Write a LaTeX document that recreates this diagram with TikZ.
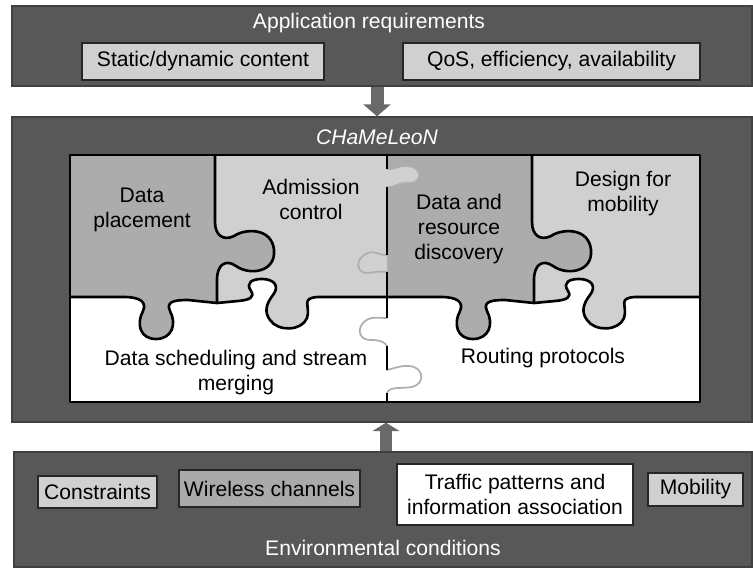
\documentclass[tikz,border=0pt]{standalone}
\usepackage{fontspec}
\setmainfont{Liberation Sans}
\usetikzlibrary{arrows.meta, positioning, calc}
\definecolor{bandgray}{RGB}{88,88,88}
\definecolor{arrowgray}{RGB}{105,105,105}
\definecolor{tagpale}{RGB}{208,208,208}
\definecolor{tagmid}{RGB}{170,170,170}
\definecolor{piecedark}{RGB}{172,172,172}
\definecolor{piecelight}{RGB}{208,208,208}
\definecolor{ghostline}{RGB}{175,175,175}

\begin{document}
\begin{tikzpicture}[x=0.02cm, y=-0.02cm,
    font=\fontsize{12}{14.4}\selectfont,
    band/.style={rectangle, draw=black!75, line width=0.8pt, fill=bandgray,
                 minimum width=14.8cm},
    bandtitle/.style={text=white},
    tag/.style={rectangle, draw=black!85, line width=1pt, inner sep=0pt,
                align=center, minimum height=0.74cm},
    piece/.style={draw=black, line width=1.5pt, line join=round},
    ghost/.style={draw=ghostline, line width=1pt},
    fatarrow/.style={draw=arrowgray, line width=0.26cm,
                     -{Triangle[width=0.54cm, length=0.24cm]}},
    slimarrow/.style={draw=arrowgray, line width=0.24cm,
                      -{Triangle[width=0.54cm, length=0.17cm]}}]

    \useasboundingbox (0,0) rectangle (753,570);

    % Application requirements
    \node[band, minimum height=1.6cm] (appband) at (382,46) {};
    \node[bandtitle] (appreq) at (369,23) {Application requirements};
    \node[tag, fill=tagpale, minimum width=4.84cm] (staticbox) at (203,61.5) {Static/dynamic content};
    \node[tag, fill=tagpale, minimum width=5.94cm] (qosbox) at (551.5,61.5) {QoS, efficiency, availability};

    % CHaMeLeoN
    \node[band, minimum height=6.1cm] (chamband) at (382,269.5) {};
    \node[bandtitle] (chamtitle) at (377,137) {\textit{CHaMeLeoN}};

    % Environmental conditions
    \node[band, minimum width=14.76cm, minimum height=2.3cm] (envband) at (383,509.5) {};
    \node[bandtitle] (envtitle) at (383,548) {Environmental conditions};
    \node[tag, fill=tagpale, minimum width=2.38cm, minimum height=0.64cm] (constraintsbox) at (97.5,492) {Constraints};
    \node[tag, fill=tagmid, minimum width=3.62cm] (wirelessbox) at (269.5,488.5) {Wireless channels};
    \node[tag, fill=white, minimum width=4.72cm, minimum height=1.22cm] (trafficbox) at (515,494.5) {Traffic patterns and\\information association};
    \node[tag, fill=tagpale, minimum width=1.9cm, minimum height=0.66cm] (mobilitybox) at (695.5,489.5) {Mobility};

    % Arrows between the layers
    \coordinate (arrtop) at (377,0);
    \coordinate (arrbot) at (386,0);
    \draw[fatarrow] (appband.south -| arrtop) -- (chamband.north -| arrtop);
    \draw[slimarrow] (envband.north -| arrbot) -- (chamband.south -| arrbot);

    % Puzzle: both halves share the same cut
    \begin{scope}
        \clip (70,155) rectangle (700,402);
        \foreach \dx in {0,317} {
            \begin{scope}[shift={(\dx,0)}]
                \fill[white] (70,155) rectangle (387,402);
                % upper pieces
                \fill[piecelight] (70,155) -- (70,297) -- (124,297)
                    .. controls (140,297) and (147,302) .. (143,311)
                    .. controls (136,324) and (140,339) .. (156,339)
                    .. controls (172,339) and (177,324) .. (170,311)
                    .. controls (166,302) and (173,300) .. (188,300) -- (217,303)
                    -- (238,301) .. controls (250,300) and (255,297) .. (251,291)
                    .. controls (245,282) and (253,279) .. (262,279)
                    .. controls (274,279) and (280,286) .. (273,295)
                    .. controls (266,304) and (264,312) .. (270,320)
                    .. controls (278,332) and (302,331) .. (307,318)
                    .. controls (311,306) and (300,298) .. (318,297)
                    -- (387,297) -- (387,155) -- cycle;
                % left upper piece
                \fill[piecedark] (70,155) -- (70,297) -- (124,297)
                    .. controls (140,297) and (147,302) .. (143,311)
                    .. controls (136,324) and (140,339) .. (156,339)
                    .. controls (172,339) and (177,324) .. (170,311)
                    .. controls (166,302) and (173,300) .. (188,300) -- (217,303)
                    -- (217,280) .. controls (217,264) and (226,259) .. (236,266)
                    .. controls (250,276) and (276,272) .. (274,250)
                    .. controls (272,228) and (246,228) .. (234,236)
                    .. controls (224,241) and (215,236) .. (215,222) -- (215,155) -- cycle;
                % cuts
                \draw[piece] (70,297) -- (124,297)
                    .. controls (140,297) and (147,302) .. (143,311)
                    .. controls (136,324) and (140,339) .. (156,339)
                    .. controls (172,339) and (177,324) .. (170,311)
                    .. controls (166,302) and (173,300) .. (188,300) -- (217,303)
                    -- (238,301) .. controls (250,300) and (255,297) .. (251,291)
                    .. controls (245,282) and (253,279) .. (262,279)
                    .. controls (274,279) and (280,286) .. (273,295)
                    .. controls (266,304) and (264,312) .. (270,320)
                    .. controls (278,332) and (302,331) .. (307,318)
                    .. controls (311,306) and (300,298) .. (318,297)
                    -- (387,297);
                \draw[piece] (215,155) -- (215,222)
                    .. controls (215,236) and (224,241) .. (234,236)
                    .. controls (246,228) and (272,228) .. (274,250)
                    .. controls (276,272) and (250,276) .. (236,266)
                    .. controls (226,259) and (217,264) .. (217,280) -- (217,303);
            \end{scope}
        }
    \end{scope}

    % faint tabs across the middle
    \filldraw[ghost, fill=piecelight] (387,169)
        .. controls (396,170) and (398,165) .. (408,166)
        .. controls (424,168) and (422,184) .. (408,183)
        .. controls (398,182) and (395,188) .. (387,187);
    \filldraw[ghost, fill=piecelight] (387,255)
        .. controls (380,256) and (376,250) .. (368,253)
        .. controls (354,258) and (356,274) .. (368,273)
        .. controls (376,272) and (380,271) .. (387,272);
    \draw[ghost] (387,318)
        .. controls (378,318) and (370,316) .. (364,322)
        .. controls (356,330) and (360,340) .. (370,340)
        .. controls (380,340) and (385,342) .. (387,346);
    \draw[ghost] (387,370)
        .. controls (395,368) and (405,364) .. (414,367)
        .. controls (424,371) and (424,384) .. (412,387)
        .. controls (400,389) and (390,386) .. (387,393);

    % middle seam and frame
    \foreach \ya/\yb in {155/169, 187/255, 272/318, 346/370, 393/402}
        \draw[piece] (387,\ya) -- (387,\yb);
    \draw[piece] (70,155) rectangle (700,402);

    % piece labels
    \node[align=center] (dataplace) at (142,210) {Data\\placement};
    \node[align=center] (admission) at (311,199.5) {Admission\\control};
    \node[align=center] (discovery) at (459,229) {Data and\\resource\\discovery};
    \node[align=center] (mobdesign) at (623,193.5) {Design for\\mobility};
    \node[align=center] (scheduling) at (236,372.5) {Data scheduling and stream\\merging};
    \node (routing) at (543,358) {Routing protocols};
\end{tikzpicture}
\end{document}
